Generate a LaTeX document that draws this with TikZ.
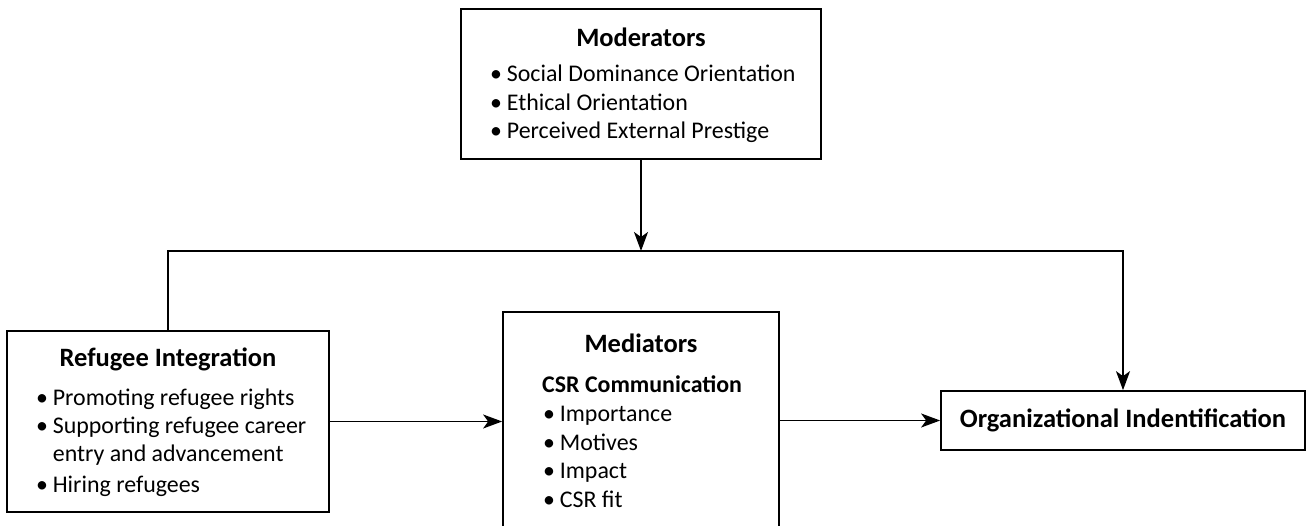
\documentclass[tikz,border=0pt]{standalone}
\usepackage{fontspec}
\setmainfont{Carlito}
\usetikzlibrary{arrows.meta}
\newcommand{\bul}{\textbullet\hspace{0.2em}}
\newcommand{\txtsize}{\fontsize{23.9}{28.5}\selectfont}
\newcommand{\headsize}{\fontsize{26.5}{30}\selectfont}
\tikzset{
	box/.style 2 args={draw,rectangle,line width=1.7pt,minimum width=#1,minimum height=#2,inner sep=0pt},
	head/.style={font=\headsize\bfseries,inner sep=0pt,anchor=base},
	subhead/.style={font=\txtsize\bfseries,inner sep=0pt,anchor=base west},
	items/.style={font=\txtsize,inner sep=0pt,anchor=base west,align=left},
	arr/.style={line width=1.7pt,-{Stealth[length=19pt,width=14pt,inset=5pt]}}
}
\begin{document}
\begin{tikzpicture}[x=1pt,y=-1pt]
	\useasboundingbox (0,0) rectangle (1307,526);

	% moderators on top
	\node [box={360}{150}] (mod) at (641,84) {};
	\node [head] (modhead) at (641,46.7) {Moderators};
	\node [items] (modlist) at (490,139) {\bul Social Dominance Orientation\\\bul Ethical Orientation\\\bul Perceived External Prestige};

	\node [box={322}{181}] (ref) at (168,421.5) {};
	\node [head] (refhead) at (168,367) {Refugee Integration};
	\node [items] (reflist) at (36,492) {\bul Promoting refugee rights\\\bul Supporting refugee career\\\phantom{\bul}entry and advancement\\[1.5pt]\bul Hiring refugees};

	\node [box={276}{233}] (med) at (641,428.5) {};
	\node [head] (medhead) at (641,353) {Mediators};
	\node [subhead] (medsub) at (542,393) {CSR Communication};
	\node [items] (medlist) at (543,507) {\bul Importance\\\bul Motives\\\bul Impact\\\bul CSR fit};

	\node [box={364}{59},font=\headsize\bfseries] (org) at (1123,420.5) {Organizational Indentification};

	% connectors
	\coordinate (junc) at (641,251);
	\draw [arr] (mod.south) -- (junc);
	\draw [arr] (ref.north) |- (junc) -| (org.north);
	\draw [arr] (ref.east) -- (ref.east -| med.west);
	\draw [arr] (med.east |- org.west) -- (org.west);
\end{tikzpicture}
\end{document}
